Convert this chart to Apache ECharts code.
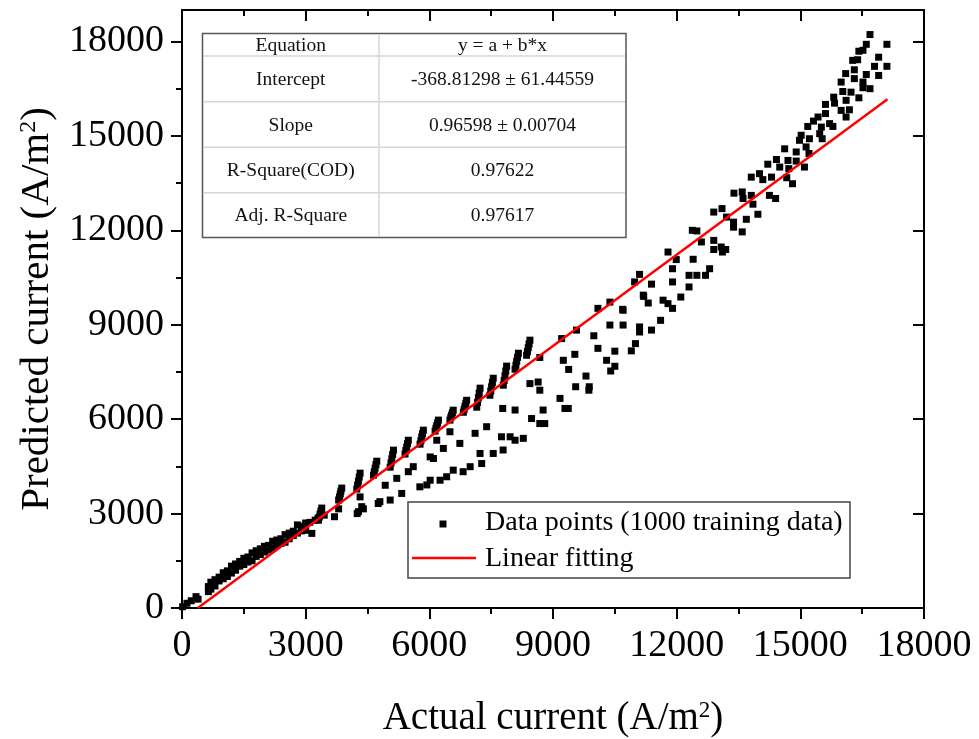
<!DOCTYPE html>
<html>
<head>
<meta charset="utf-8">
<script src="https://cdn.jsdelivr.net/npm/echarts@6/dist/echarts.min.js"></script>
<style>html,body{margin:0;padding:0;background:#fff}#c{width:979px;height:739px}</style>
</head>
<body>
<div id="c"></div>
<script>
// ---- data ----
const originPoints = [[15,40],[120,150],[225,230],[340,360],[390,280]];
const bandPoints = [[640,520],[640,680],[700,820],[700,600],[800,900],[800,700],[900,980],[900,860],[1000,1120],[1000,930],[1100,1180],[1100,1000],[1200,1330],[1200,1110],[1300,1400],[1300,1200],[1400,1480],[1400,1330],[1500,1580],[1500,1380],[1600,1620],[1600,1460],[1700,1750],[1700,1500],[1800,1820],[1800,1640],[1900,1880],[1900,1700],[2000,1960],[2000,1780],[2100,1990],[2100,1840],[2200,2120],[2200,1900],[2300,2160],[2300,2000],[2400,2200],[2400,2050],[2500,2330],[2500,2090],[2600,2380],[2600,2200],[2700,2440],[2700,2300],[2800,2640],[2800,2380],[2900,2600],[2900,2450],[2950,2580],[3000,2700],[3000,2470],[3100,2720],[3150,2370],[3230,2790],[3300,2850],[3450,2950],[3700,2900],[3800,3150],[4250,3000],[4400,3150]];
const columnPoints = [
 [3310,2790],[3330,2890],[3350,2985],[3370,3080],[3390,3175],
 [3800,3430],[3820,3525],[3840,3620],[3855,3715],[3875,3810],
 [4240,3780],[4260,3905],[4280,4030],[4300,4160],[4320,4285],
 [4645,4220],[4665,4330],[4685,4445],[4705,4555],[4725,4665],
 [5050,4475],[5070,4610],[5090,4745],[5110,4880],[5130,5015],
 [5410,4890],[5430,5000],[5450,5110],[5470,5220],[5490,5330],
 [5775,5205],[5795,5315],[5815,5430],[5835,5540],[5855,5650],
 [6140,5620],[6160,5710],[6180,5795],[6200,5880],[6220,5970],
 [6500,5970],[6520,6050],[6540,6130],[6560,6210],[6580,6285],
 [6825,6220],[6845,6315],[6865,6410],[6885,6510],[6905,6600],
 [7150,6380],[7170,6530],[7190,6680],[7210,6830],[7230,6985],
 [7470,6760],[7490,6895],[7510,7030],[7530,7165],[7550,7300],
 [7795,7080],[7815,7230],[7835,7380],[7855,7530],[7875,7685],
 [8080,7585],[8100,7710],[8120,7840],[8140,7965],[8160,8095],
 [8360,8030],[8380,8150],[8400,8270],[8420,8390],[8440,8510]];
const branchPoints = [[4320,3530],[4360,3220],[4280,3060],[4800,3380],[5050,3430],[4930,3900],[5210,4120],[5490,4330],[5610,4490],[6100,4750],[6340,5070],[6180,5330],[6500,5600],[4760,3320],[5330,3640],[5770,3850],[5940,3910],[6260,4060],[6420,4170],[6580,4380],[6020,4060],[6020,4800],[6740,5230],[6820,4330],[6990,4490],[7110,5550],[7230,4910],[7270,4590],[7390,5760],[7550,4910],[7750,5440],[7790,5020],[7960,5440],[8080,5330],[8280,5390],[8440,7130],[8480,6020],[8640,7180],[8680,6920],[8680,5860],[8760,6290],[8800,5860],[9170,6660],[9290,6340],[9250,7870],[7780,6340],[8080,6290],[9370,6340],[9380,7580],[9530,8060],[9550,7030],[9800,7370],[9880,7030],[9870,6920],[9990,8650],[10090,8250],[10300,7870],[10400,7530],[10500,8160],[10500,7680],[10380,8990],[10700,8990],[10700,9460],[10900,8170],[11000,8400],[11100,8930],[11100,8770],[11200,9900],[11310,9690],[11390,8830],[11610,9140],[11670,9780],[11790,9670],[11900,9520],[12100,9880],[12300,10200],[11390,10290],[11900,10360],[10980,10360],[10090,9520],[10380,9720],[9570,8830],[9210,8560],[8680,7960]];
const upperPoints = [[10690,9490],[11100,10600],[11190,9940],[11900,10780],[11790,11310],[11990,11070],[12400,11080],[12300,10570],[12490,10570],[12700,10570],[12800,10780],[12380,12000],[12490,11980],[12600,11630],[12900,11680],[12900,11390],[13080,11470],[13190,11390],[13110,11310],[12900,12580],[13100,12690],[13210,12420],[13380,12260],[13380,12100],[13390,13180],[13590,11950],[13590,13220],[13610,13010],[13810,13110],[13850,12830],[13970,12510],[13690,12350],[13810,13690],[14010,13800],[14090,13610],[14210,14100],[14300,13690],[14250,13110],[14400,13010],[14420,14250],[14500,14010],[14620,14590],[14700,14220],[14720,13960],[14670,13670],[14810,13480],[14900,14490],[14900,14200],[14980,14860],[15100,14010],[15140,14650],[15220,14910],[15210,14440],[15020,15020],[15180,15300],[15320,15470],[15430,15600],[15510,15280],[15530,14910],[15470,15070],[15610,15710],[15610,16000],[15710,15390],[15790,15300],[15810,16230],[15830,16040],[15990,15810],[16110,15600],[16190,15830],[16110,16130],[16030,16410],[15990,16710],[16100,16980],[16230,16390],[16310,16820],[16310,17100],[16270,17400],[16390,17420],[16420,16210],[16520,16710],[16520,16530],[16690,16500],[16600,16950],[16420,17690],[16520,17720],[16600,17910],[16690,18220],[16800,17210],[16900,17500],[16900,16920],[17100,17910],[17100,17210]];
const fitX = [382, 17114];
const fitY = [0, 16163];
const yMajorTicks = [0, 3000, 6000, 9000, 12000, 15000, 18000];
const yMinorTicks = [1500, 4500, 7500, 10500, 13500, 16500];
const tableRows = [
  ['Equation', 'y = a + b*x'],
  ['Intercept', '-368.81298 \u00b1 61.44559'],
  ['Slope', '0.96598 \u00b1 0.00704'],
  ['R-Square(COD)', '0.97622'],
  ['Adj. R-Square', '0.97617']
];
const legendLabels = ['Data points (1000 training data)', 'Linear fitting'];
const xTitle = 'Actual current (A/m';
const yTitle = 'Predicted current (A/m';

// ---- chart ----
const F = '"Liberation Serif","Times New Roman",serif';
const allPoints = originPoints.concat(bandPoints, columnPoints, branchPoints, upperPoints);
const fitLine = fitX.map((x, i) => [x, fitY[i]]);
const plain = v => String(v);

const lineS = {color: '#000', width: 2};
const richX = {
  a: {fontFamily: F, fontSize: 39, color: '#000'},
  s: {fontFamily: F, fontSize: 23, color: '#000', verticalAlign: 'top'}
};
const richY = {
  a: {fontFamily: F, fontSize: 41, color: '#000'},
  s: {fontFamily: F, fontSize: 24, color: '#000', verticalAlign: 'top'}
};

// table graphic
const tL = 202.5, tR = 626, tT = 33.5, tB = 237.5, tC = 379;
const rowLines = [tT, 56, 101.7, 147.3, 192.7, tB];
const g = [];
g.push({type: 'rect', shape: {x: tL, y: tT, width: tR - tL, height: tB - tT}, style: {fill: '#fff', stroke: '#555', lineWidth: 1.5}, z: 100});
for (let i = 1; i < rowLines.length - 1; i++) {
  g.push({type: 'line', shape: {x1: tL + 1, y1: rowLines[i], x2: tR - 1, y2: rowLines[i]}, style: {stroke: '#d6d6d6', lineWidth: 1.5}, z: 101});
}
g.push({type: 'line', shape: {x1: tC, y1: tT + 1, x2: tC, y2: tB - 1}, style: {stroke: '#d6d6d6', lineWidth: 1.5}, z: 101});
tableRows.forEach((r, i) => {
  const cy = (rowLines[i] + rowLines[i + 1]) / 2 + 1;
  [[(tL + tC) / 2, r[0]], [(tC + tR) / 2, r[1]]].forEach(([cx, t]) => {
    g.push({type: 'text', x: cx, y: cy, z: 102, style: {text: t, font: '19.5px ' + F, fill: '#111', align: 'center', verticalAlign: 'middle', textAlign: 'center', textVerticalAlign: 'middle'}});
  });
});
// legend graphic
g.push({type: 'rect', shape: {x: 408, y: 502, width: 442, height: 76}, style: {fill: '#fff', stroke: '#444', lineWidth: 1.5}, z: 100});
g.push({type: 'rect', shape: {x: 439.5, y: 520.5, width: 7, height: 7}, style: {fill: '#000'}, z: 101});
g.push({type: 'line', shape: {x1: 412, y1: 558, x2: 476, y2: 558}, style: {stroke: '#ff0000', lineWidth: 2.5}, z: 101});
legendLabels.forEach((t, i) => {
  g.push({type: 'text', x: 485, y: i === 0 ? 523 : 559, z: 102, style: {text: t, font: '28px ' + F, fill: '#000', align: 'left', verticalAlign: 'middle', textAlign: 'left', textVerticalAlign: 'middle'}});
});

const noSplit = {show: false};
const option = {
  animation: false,
  backgroundColor: '#fff',
  grid: {left: 182, right: 55, top: 10, bottom: 131, containLabel: false, outerBoundsMode: 'none'},
  xAxis: [
    {
      type: 'value', position: 'bottom', min: 0, max: 18000, interval: 3000, splitLine: noSplit,
      axisLine: {show: true, onZero: false, lineStyle: lineS},
      axisTick: {show: true, inside: false, length: 11, lineStyle: lineS},
      minorTick: {show: true, splitNumber: 2, length: 6, lineStyle: lineS},
      axisLabel: {show: true, fontFamily: F, fontSize: 38, color: '#000', margin: 19, formatter: plain},
      name: '{a|' + xTitle + '}{s|2}{a|)}', nameLocation: 'middle', nameGap: 91,
      nameTextStyle: {rich: richX}
    },
    {
      type: 'value', position: 'top', min: 0, max: 18000, interval: 3000, splitLine: noSplit,
      axisLine: {show: true, onZero: false, lineStyle: lineS},
      axisTick: {show: true, inside: true, length: 11, lineStyle: lineS},
      minorTick: {show: true, splitNumber: 2, length: 6, lineStyle: lineS},
      axisLabel: {show: false}
    }
  ],
  yAxis: [
    {
      type: 'value', position: 'left', min: 0, max: 19000, splitLine: noSplit,
      axisLine: {show: true, onZero: false, lineStyle: lineS},
      axisTick: {show: true, inside: false, length: 11, lineStyle: lineS, customValues: yMajorTicks},
      axisLabel: {show: true, fontFamily: F, fontSize: 38, color: '#000', margin: 18, customValues: yMajorTicks, formatter: plain},
      name: '{a|' + yTitle + '}{s|2}{a|)}', nameLocation: 'middle', nameGap: 107, nameRotate: 90,
      nameTextStyle: {rich: richY}
    },
    {
      type: 'value', position: 'right', min: 0, max: 19000, splitLine: noSplit,
      axisLine: {show: true, onZero: false, lineStyle: lineS},
      axisTick: {show: true, inside: true, length: 11, lineStyle: lineS, customValues: yMajorTicks},
      axisLabel: {show: false}
    },
    {
      type: 'value', position: 'left', min: 0, max: 19000, splitLine: noSplit, offset: 0,
      axisLine: {show: false},
      axisTick: {show: true, inside: false, length: 6, lineStyle: lineS, customValues: yMinorTicks},
      axisLabel: {show: false}
    },
    {
      type: 'value', position: 'right', min: 0, max: 19000, splitLine: noSplit, offset: 0,
      axisLine: {show: false},
      axisTick: {show: true, inside: true, length: 6, lineStyle: lineS, customValues: yMinorTicks},
      axisLabel: {show: false}
    }
  ],
  series: [
    {type: 'scatter', xAxisIndex: 0, yAxisIndex: 0, data: allPoints, symbol: 'rect', symbolSize: 7,
     itemStyle: {color: '#000', opacity: 1}, z: 2, silent: true},
    {type: 'line', xAxisIndex: 0, yAxisIndex: 0, data: fitLine, showSymbol: false, symbol: 'none',
     lineStyle: {color: '#ff0000', width: 2.5}, z: 3, clip: true, silent: true}
  ],
  graphic: g
};
const chart = echarts.init(document.getElementById('c'), null, {renderer: 'canvas'});
chart.setOption(option);
</script>
</body>
</html>
